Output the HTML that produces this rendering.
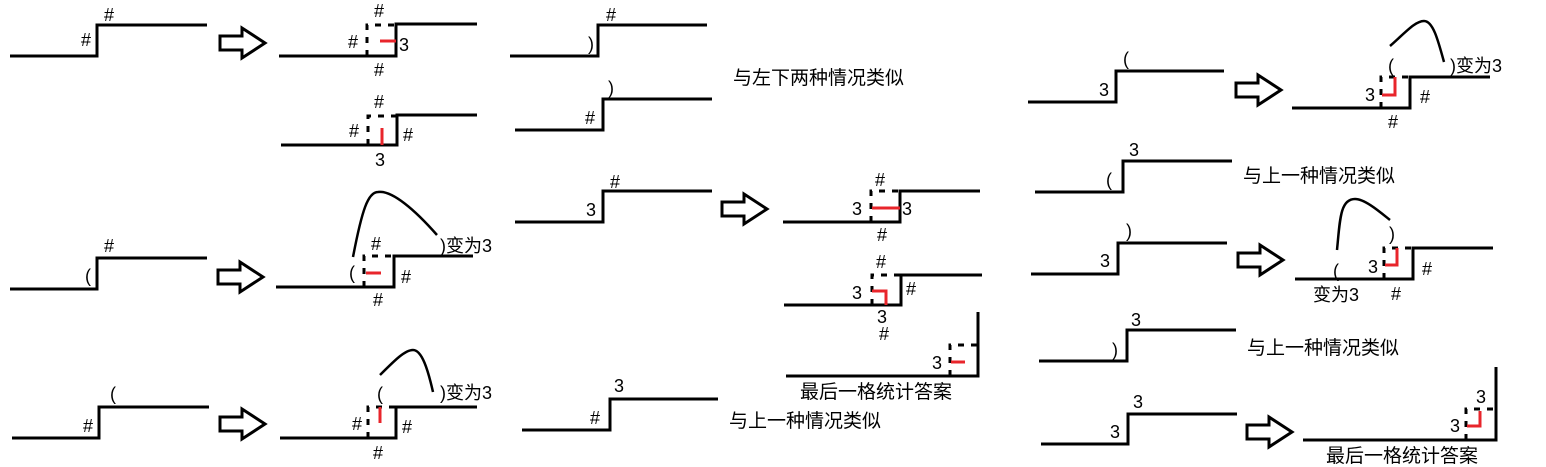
<!DOCTYPE html>
<html><head><meta charset="utf-8"><style>
html,body{margin:0;padding:0;background:#fff;}
svg{display:block}
text{font-family:"Liberation Sans","Noto Sans CJK SC",sans-serif;font-size:18px;fill:#000}
.c{font-size:19px}
.l{fill:none;stroke:#000;stroke-width:3}
.d{fill:none;stroke:#000;stroke-width:3;stroke-dasharray:6 7}
.r{fill:none;stroke:#e8252b;stroke-width:3}
.a{fill:#fff;stroke:#000;stroke-width:3;stroke-linejoin:miter}
.cv{fill:none;stroke:#000;stroke-width:2.5}
</style></head><body>
<svg width="1546" height="467" viewBox="0 0 1546 467" xmlns="http://www.w3.org/2000/svg">
<defs>
<polygon id="arr" points="0,-7 22,-7 22,-15 45,0 22,15 22,7 0,7"/>
</defs>

<polyline class="l" points="10,56 97,56 97,25 207,25"/>
<text x="81" y="46">#</text><text x="104" y="21">#</text>
<use href="#arr" class="a" x="220" y="43"/>

<polyline class="l" points="279,56 396,56 396,24 477,24"/>
<path class="d" d="M367,56 V25 H396"/>
<line class="r" x1="380" y1="41" x2="396" y2="41"/>
<text x="374" y="17">#</text><text x="348" y="48">#</text><text x="399" y="51">3</text><text x="374" y="76">#</text>

<polyline class="l" points="281,145 397,145 397,115 477,115"/>
<path class="d" d="M368,145 V116 H397"/>
<line class="r" x1="382" y1="128" x2="382" y2="145"/>
<text x="374" y="108">#</text><text x="349" y="137">#</text><text x="403" y="141">#</text><text x="375" y="166">3</text>

<polyline class="l" points="510,56 598,56 598,25 707,25"/>
<text x="588" y="50">)</text><text x="606" y="21">#</text>
<polyline class="l" points="515,130 603,130 603,99 712,99"/>
<text x="608" y="94">)</text><text x="585" y="124">#</text>
<text class="c" x="733" y="84">与左下两种情况类似</text>

<polyline class="l" points="10,289 97,289 97,258 207,258"/>
<text x="85" y="282">(</text><text x="104" y="252">#</text>
<use href="#arr" class="a" x="218" y="277"/>

<polyline class="l" points="276,287 394,287 394,256 473,256"/>
<path class="d" d="M364,287 V256 H394"/>
<line class="r" x1="366" y1="273" x2="381" y2="273"/>
<path class="cv" d="M353,257 C362,210 368,192 378,192 C392,190 415,210 437,235"/>
<text x="349" y="279">(</text><text x="371" y="250">#</text><text x="401" y="283">#</text><text x="373" y="306">#</text>
<text x="440" y="252">)变为3</text>

<polyline class="l" points="12,438 99,438 99,407 209,407"/>
<text x="83" y="432">#</text><text x="110" y="400">(</text>
<use href="#arr" class="a" x="220" y="424"/>

<polyline class="l" points="280,438 396,438 396,407 477,407"/>
<path class="d" d="M368,438 V407 H396"/>
<line class="r" x1="380" y1="407" x2="380" y2="423"/>
<path class="cv" d="M380,375 C395,360 405,350 413,350 C422,350 428,370 433,392"/>
<text x="377" y="400">(</text><text x="440" y="399">)变为3</text>
<text x="352" y="430">#</text><text x="402" y="433">#</text><text x="373" y="459">#</text>

<polyline class="l" points="515,222 603,222 603,191 712,191"/>
<text x="586" y="216">3</text><text x="610" y="188">#</text>
<use href="#arr" class="a" x="722" y="209"/>

<polyline class="l" points="522,430 610,430 610,399 718,399"/>
<text x="590" y="424">#</text><text x="614" y="392">3</text>
<text class="c" x="729" y="427">与上一种情况类似</text>

<polyline class="l" points="783,222 900,222 900,191 980,191"/>
<path class="d" d="M871,222 V191 H900"/>
<line class="r" x1="872" y1="208" x2="900" y2="208"/>
<text x="852" y="215">3</text><text x="902" y="215">3</text><text x="875" y="186">#</text><text x="877" y="241">#</text>

<polyline class="l" points="784,305 901,305 901,275 982,275"/>
<path class="d" d="M872,305 V275 H901"/>
<polyline class="r" points="872,291 886,291 886,305"/>
<text x="852" y="299">3</text><text x="876" y="268">#</text><text x="906" y="295">#</text><text x="877" y="323">3</text><text x="879" y="340">#</text>

<polyline class="l" points="786,376 978,376 978,312"/>
<path class="d" d="M950,376 V345 H978"/>
<line class="r" x1="951" y1="362" x2="965" y2="362"/>
<text x="932" y="369">3</text>
<text class="c" x="800" y="398">最后一格统计答案</text>

<polyline class="l" points="1028,102 1116,102 1116,71 1224,71"/>
<text x="1099" y="96">3</text><text x="1123" y="65">(</text>
<use href="#arr" class="a" x="1236" y="90"/>

<polyline class="l" points="1292,108 1410,108 1410,77 1490,77"/>
<path class="d" d="M1381,108 V77 H1410"/>
<polyline class="r" points="1395,77 1395,95 1382,95"/>
<path class="cv" d="M1390,46 C1405,33 1415,21 1424,21 C1433,21 1438,40 1444,62"/>
<text x="1388" y="72">(</text><text x="1450" y="72">)变为3</text>
<text x="1365" y="101">3</text><text x="1420" y="103">#</text><text x="1388" y="128">#</text>

<polyline class="l" points="1035,192 1123,192 1123,161 1232,161"/>
<text x="1106" y="186">(</text><text x="1129" y="156">3</text>
<text class="c" x="1243" y="182">与上一种情况类似</text>

<polyline class="l" points="1031,274 1118,274 1118,243 1227,243"/>
<text x="1100" y="267">3</text><text x="1126" y="237">)</text>
<use href="#arr" class="a" x="1238" y="260"/>

<polyline class="l" points="1295,279 1413,279 1413,248 1493,248"/>
<path class="d" d="M1384,279 V248 H1413"/>
<polyline class="r" points="1397,248 1397,265 1385,265"/>
<path class="cv" d="M1337,250 C1340,220 1340,199 1355,199 C1365,199 1380,212 1390,220"/>
<text x="1389" y="240">)</text><text x="1333" y="277">(</text>
<text x="1368" y="273">3</text><text x="1422" y="275">#</text><text x="1391" y="300">#</text>
<text x="1313" y="301">变为3</text>

<polyline class="l" points="1039,361 1127,361 1127,330 1236,330"/>
<text x="1112" y="356">)</text><text x="1131" y="326">3</text>
<text class="c" x="1247" y="354">与上一种情况类似</text>

<polyline class="l" points="1041,444 1128,444 1128,414 1237,414"/>
<text x="1110" y="438">3</text><text x="1133" y="408">3</text>
<use href="#arr" class="a" x="1247" y="432"/>

<polyline class="l" points="1303,440 1496,440 1496,367"/>
<path class="d" d="M1466,440 V409 H1496"/>
<polyline class="r" points="1480,411 1480,426 1467,426"/>
<text x="1450" y="432">3</text><text x="1476" y="403">3</text>
<text class="c" x="1326" y="462">最后一格统计答案</text>
</svg>
</body></html>
